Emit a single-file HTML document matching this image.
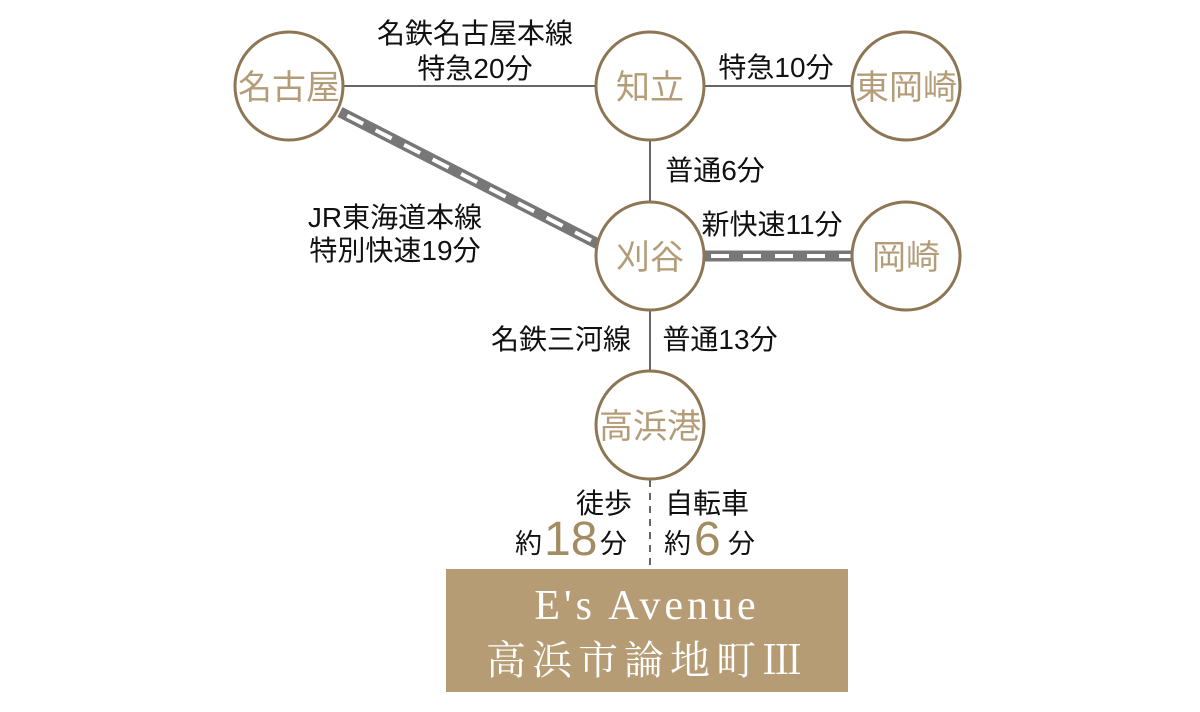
<!DOCTYPE html>
<html><head><meta charset="utf-8"><style>
body{margin:0;background:#fff}
svg{display:block}
text{font-family:"Liberation Sans","Noto Sans CJK JP",sans-serif}
</style></head><body>
<svg width="1200" height="712" viewBox="0 0 1200 712">
<g stroke="#666" stroke-width="2">
<line x1="344" y1="86" x2="595" y2="86"/>
<line x1="705" y1="86" x2="851" y2="86"/>
<line x1="650" y1="141" x2="650" y2="201"/>
<line x1="650" y1="311" x2="650" y2="370"/>
<line x1="650" y1="480" x2="650" y2="569" stroke-dasharray="7,6"/>
</g>
<g>
<line x1="340" y1="112" x2="598" y2="244" stroke="#777" stroke-width="11"/>
<line x1="340" y1="112" x2="598" y2="244" stroke="#fff" stroke-width="4" stroke-dasharray="18,14" stroke-dashoffset="-8"/>
<line x1="705" y1="256" x2="851" y2="256" stroke="#777" stroke-width="11"/>
<line x1="705" y1="256" x2="851" y2="256" stroke="#fff" stroke-width="4" stroke-dasharray="18,14" stroke-dashoffset="-6"/>
</g>
<g fill="#fff" stroke="#8c7654" stroke-width="3">
<circle cx="289" cy="86" r="54"/>
<circle cx="650" cy="86" r="54"/>
<circle cx="906" cy="86" r="54"/>
<circle cx="650" cy="256" r="54"/>
<circle cx="906" cy="256" r="54"/>
<circle cx="650" cy="425" r="54"/>
</g>
<g fill="#b39c78" font-size="34" text-anchor="middle">
<text x="289" y="99">名古屋</text>
<text x="650" y="99">知立</text>
<text x="906" y="99">東岡崎</text>
<text x="650" y="269">刈谷</text>
<text x="906" y="269">岡崎</text>
<text x="650" y="438">高浜港</text>
</g>
<g fill="#111" font-size="28" text-anchor="middle">
<text x="475" y="43">名鉄名古屋本線</text>
<text x="475" y="78">特急20分</text>
<text x="776" y="77">特急10分</text>
<text x="715" y="180">普通6分</text>
<text x="772" y="234">新快速11分</text>
<text x="395" y="227">JR東海道本線</text>
<text x="395" y="260">特別快速19分</text>
<text x="561" y="349">名鉄三河線</text>
<text x="720" y="349">普通13分</text>
<text x="604" y="513">徒歩</text>
<text x="707" y="513">自転車</text>
</g>
<g fill="#111" font-size="27">
<text x="515" y="553">約</text>
<text x="544" y="555" fill="#a38c62" font-size="48">18</text>
<text x="600" y="553">分</text>
<text x="664" y="553">約</text>
<text x="694" y="555" fill="#a38c62" font-size="48">6</text>
<text x="728" y="553">分</text>
</g>
<rect x="446" y="569" width="402" height="123" fill="#b59c74"/>
<g fill="#fff" text-anchor="middle">
<text x="647" y="619" font-size="42" letter-spacing="4" style="font-family:'Liberation Serif',serif">E's Avenue</text>
<text x="647" y="674" font-size="40" letter-spacing="6" style="font-family:'Liberation Serif','Noto Serif CJK SC',serif">高浜市論地町Ⅲ</text>
</g>
</svg>
</body></html>
